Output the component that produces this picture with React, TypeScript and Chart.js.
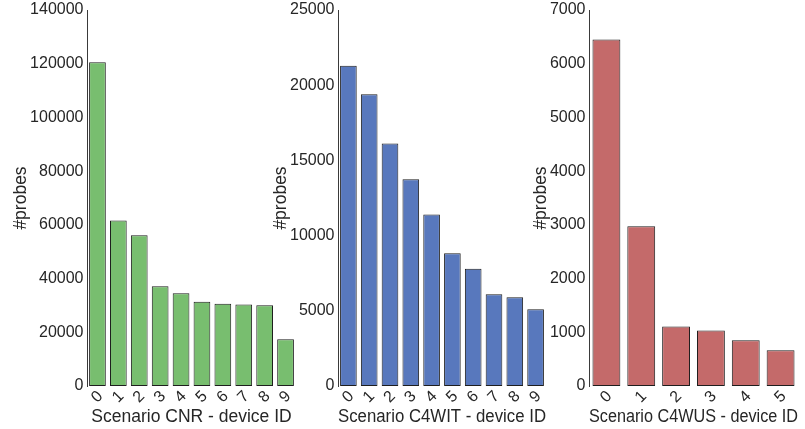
import React, { useEffect, useRef } from "react";
import { Chart, registerables } from "chart.js";

Chart.register(...registerables);

// ---- data ----
const cnrDevices = ["0", "1", "2", "3", "4", "5", "6", "7", "8", "9"];
const cnrProbes = [120500, 61600, 56100, 37100, 34500, 31400, 30650, 30300, 30050, 17400];

const c4witDevices = ["0", "1", "2", "3", "4", "5", "6", "7", "8", "9"];
const c4witProbes = [21300, 19400, 16130, 13740, 11410, 8820, 7800, 6100, 5900, 5100];

const c4wusDevices = ["0", "1", "2", "3", "4", "5"];
const c4wusProbes = [6450, 2975, 1110, 1035, 850, 665];

const yLabel = "#probes";
const xLabels = [
  "Scenario CNR - device ID",
  "Scenario C4WIT - device ID",
  "Scenario C4WUS - device ID",
];
const yMaxes = [140000, 25000, 7000];
const ySteps = [20000, 5000, 1000];

const FONT = "'Liberation Sans', Arial, Helvetica, sans-serif";
const TEXT = "#262626";
const H = 429;

type PanelProps = {
  left: number;
  width: number;
  labels: string[];
  values: number[];
  color: string;
  yMax: number;
  yStep: number;
  xTitle: string;
  yTitlePad: number;
};

function Panel(p: PanelProps) {
  const ref = useRef<HTMLCanvasElement | null>(null);
  useEffect(() => {
    if (!ref.current) return;
    const chart = new Chart(ref.current, {
      type: "bar",
      data: {
        labels: p.labels,
        datasets: [
          {
            data: p.values,
            backgroundColor: p.color,
            borderColor: "#1e1e1e",
            borderWidth: 1,
            borderSkipped: false,
            barPercentage: 0.8,
            categoryPercentage: 1,
          },
        ],
      },
      options: {
        animation: false,
        responsive: false,
        devicePixelRatio: 1,
        layout: { padding: { top: 10, left: 0, right: 0, bottom: 0 } },
        plugins: { legend: { display: false }, tooltip: { enabled: false } },
        scales: {
          x: {
            grid: { display: false, drawTicks: false },
            border: { display: false },
            ticks: {
              color: TEXT,
              font: { family: FONT, size: 16 },
              minRotation: 45,
              maxRotation: 45,
              padding: 1,
              labelOffset: 3,
              autoSkip: false,
            },
            title: {
              display: true,
              text: p.xTitle,
              color: TEXT,
              font: { family: FONT, size: 17.5 },
              padding: { top: 0, bottom: 1 },
            },
            afterFit: (s: any) => {
              s.height = 43;
              s.paddingLeft = 0;
              s.paddingRight = 0;
            },
          },
          y: {
            min: 0,
            max: p.yMax,
            grid: { display: false, drawTicks: false },
            border: { display: true, color: "#3a3a3a", width: 1 },
            ticks: {
              stepSize: p.yStep,
              color: TEXT,
              font: { family: FONT, size: 16 },
              padding: 3.5,
              callback: (v: any) => String(v),
            },
            title: {
              display: true,
              text: yLabel,
              color: TEXT,
              font: { family: FONT, size: 17.5 },
              padding: { top: p.yTitlePad, bottom: 0 },
            },
            afterFit: (s: any) => {
              s.width = 87;
              s.paddingTop = 0;
              s.paddingBottom = 0;
            },
          },
        },
      },
    });
    return () => chart.destroy();
  }, []);
  return (
    <canvas
      ref={ref}
      width={p.width}
      height={H}
      style={{ position: "absolute", left: p.left, top: 0, width: p.width, height: H }}
    />
  );
}

export default function App() {
  return (
    <div
      style={{
        position: "absolute",
        left: 0,
        top: 0,
        width: 805,
        height: H,
        background: "#ffffff",
      }}
    >
      <Panel
        left={0}
        width={296}
        labels={cnrDevices}
        values={cnrProbes}
        color="#78BE6F"
        yMax={yMaxes[0]}
        yStep={ySteps[0]}
        xTitle={xLabels[0]}
        yTitlePad={11}
      />
      <Panel
        left={251}
        width={295}
        labels={c4witDevices}
        values={c4witProbes}
        color="#5878BD"
        yMax={yMaxes[1]}
        yStep={ySteps[1]}
        xTitle={xLabels[1]}
        yTitlePad={20}
      />
      <Panel
        left={502}
        width={296}
        labels={c4wusDevices}
        values={c4wusProbes}
        color="#C46A6A"
        yMax={yMaxes[2]}
        yStep={ySteps[2]}
        xTitle={xLabels[2]}
        yTitlePad={29}
      />
    </div>
  );
}
